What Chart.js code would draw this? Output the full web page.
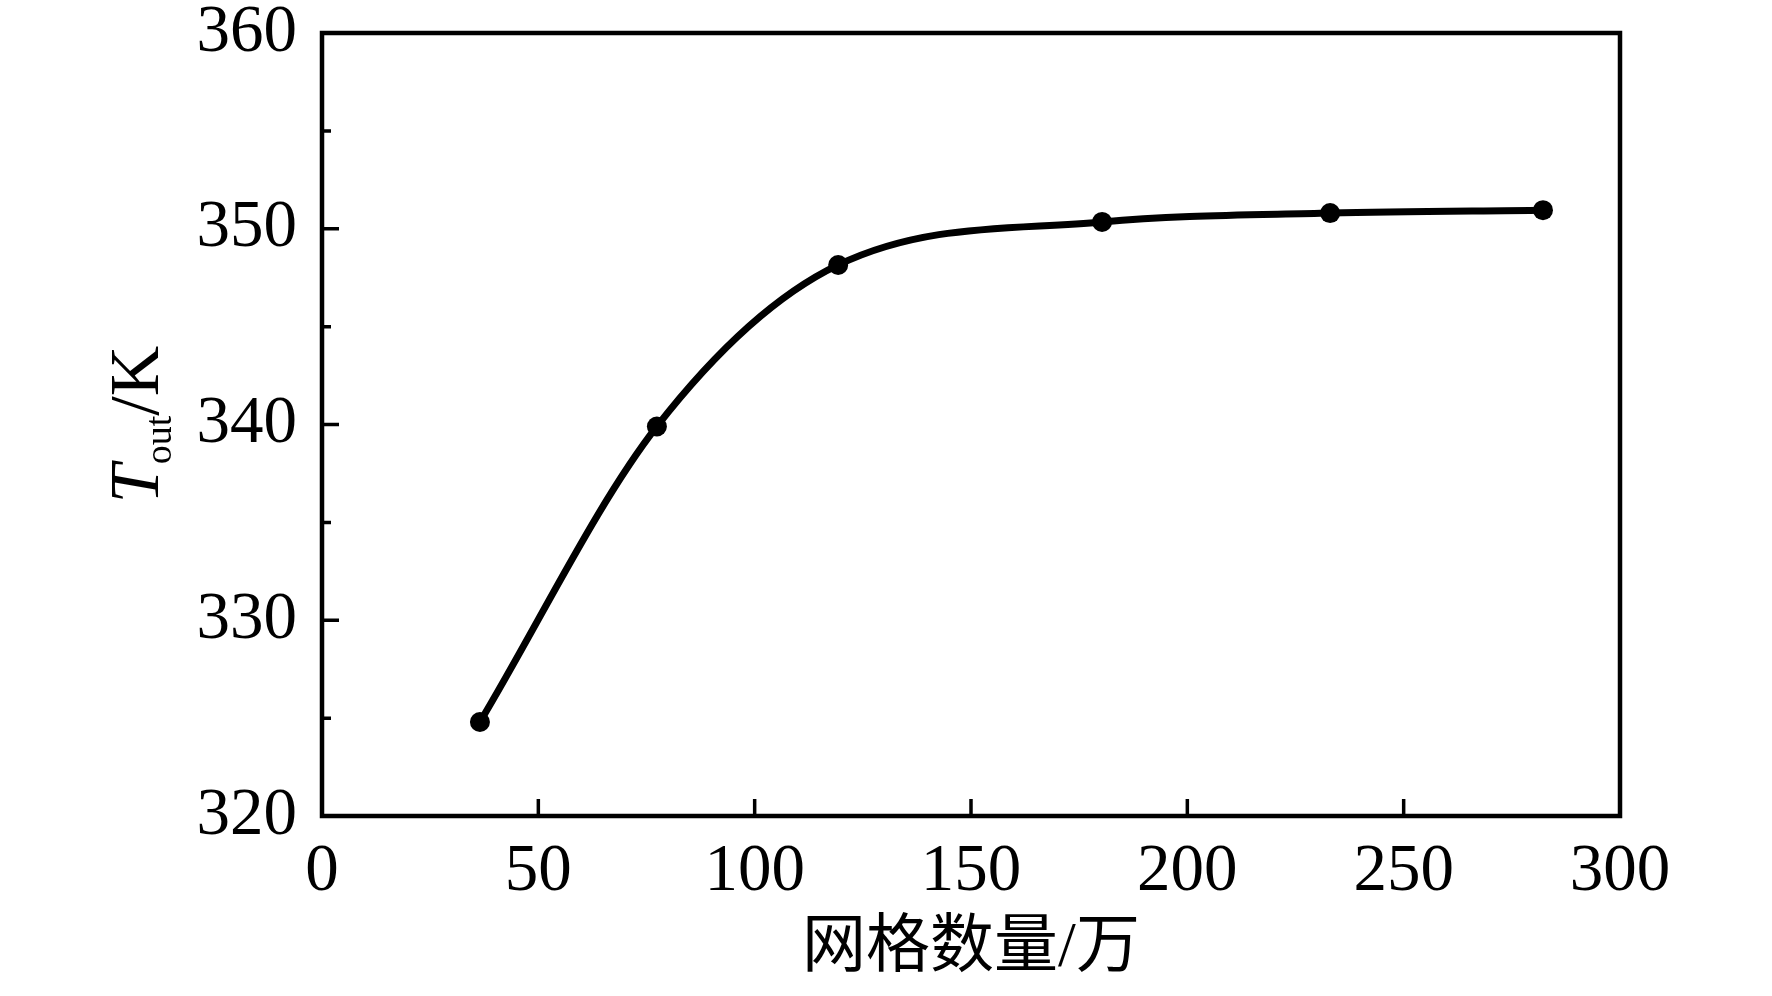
<!DOCTYPE html>
<html>
<head>
<meta charset="utf-8">
<script src="https://cdn.jsdelivr.net/npm/chart.js@4.4.1/dist/chart.umd.min.js"></script>
<style>
html,body{margin:0;padding:0;background:#fff;}
#wrap{width:1772px;height:996px;position:relative;}
</style>
</head>
<body>
<div id="wrap"><canvas id="c"></canvas></div>
<script>
// ---- data ----
const xValues = [36.5, 77.4, 119.3, 180.3, 233.0, 282.2];
const yValues = [324.8, 339.9, 348.15, 350.35, 350.8, 350.95];
const xTickValues = [0, 50, 100, 150, 200, 250, 300];
const yTickValues = [320, 330, 340, 350, 360];
const yMinorTickValues = [325, 335, 345, 355];
const xTitle = '网格数量/万';
const yTitleMain = 'T';
const yTitleSub = 'out';
const yTitleTail = '/K';

const points = xValues.map((x, i) => ({x: x, y: yValues[i]}));

const serif = '"Liberation Serif", "Times New Roman", serif';

const framePlugin = {
  id: 'frame',
  afterDraw(chart) {
    const ctx = chart.ctx;
    const {left, right, top, bottom} = chart.chartArea;
    const xs = chart.scales.x, ys = chart.scales.y;
    ctx.save();
    ctx.strokeStyle = '#000';
    ctx.lineWidth = 4.5;
    ctx.lineCap = 'butt';
    ctx.strokeRect(left, top, right - left, bottom - top);
    ctx.lineWidth = 3.5;
    ctx.beginPath();
    xTickValues.forEach(v => {
      if (v === xs.min || v === xs.max) return;
      const px = xs.getPixelForValue(v);
      ctx.moveTo(px, bottom);
      ctx.lineTo(px, bottom - 17);
    });
    yTickValues.forEach(v => {
      if (v === ys.min || v === ys.max) return;
      const py = ys.getPixelForValue(v);
      ctx.moveTo(left, py);
      ctx.lineTo(left + 17, py);
    });
    yMinorTickValues.forEach(v => {
      const py = ys.getPixelForValue(v);
      ctx.moveTo(left, py);
      ctx.lineTo(left + 9, py);
    });
    ctx.stroke();

    // y-axis title with subscript
    const cy = (top + bottom) / 2;
    const baseX = 158;
    const fMain = 'italic 70px ' + serif;
    const fSub = '38px ' + serif;
    const fTail = '70px ' + serif;
    ctx.font = fMain; const wT = ctx.measureText(yTitleMain).width;
    ctx.font = fSub; const wS = ctx.measureText(yTitleSub).width;
    ctx.font = fTail; const wK = ctx.measureText(yTitleTail).width;
    const total = wT + wS + wK;
    ctx.translate(baseX, cy);
    ctx.rotate(-Math.PI / 2);
    ctx.fillStyle = '#000';
    ctx.textBaseline = 'alphabetic';
    ctx.textAlign = 'left';
    let xx = -total / 2;
    ctx.font = fMain; ctx.fillText(yTitleMain, xx, 0); xx += wT;
    ctx.font = fSub; ctx.fillText(yTitleSub, xx, 13); xx += wS;
    ctx.font = fTail; ctx.fillText(yTitleTail, xx, 0);
    ctx.restore();
  }
};

new Chart(document.getElementById('c'), {
  type: 'line',
  data: {
    datasets: [{
      data: points,
      borderColor: '#000',
      backgroundColor: '#000',
      borderWidth: 7,
      pointRadius: 10,
      pointHoverRadius: 10,
      pointBackgroundColor: '#000',
      pointBorderWidth: 0,
      cubicInterpolationMode: 'monotone',
      fill: false
    }]
  },
  options: {
    responsive: true,
    maintainAspectRatio: false,
    devicePixelRatio: 1,
    animation: false,
    layout: {padding: {left: 0, top: 33, right: 152, bottom: 0}},
    plugins: {legend: {display: false}, tooltip: {enabled: false}},
    scales: {
      x: {
        type: 'linear',
        min: 0, max: 300,
        afterBuildTicks: s => { s.ticks = xTickValues.map(v => ({value: v})); },
        afterFit: s => { s.height = 180; s.paddingLeft = 0; s.paddingRight = 0; },
        grid: {display: false, drawTicks: false},
        border: {display: false},
        ticks: {color: '#000', padding: 16, font: {family: serif, size: 67}, maxRotation: 0, autoSkip: false},
        title: {
          display: true,
          text: xTitle,
          color: '#000',
          font: {family: '"Liberation Serif", "Noto Sans CJK SC", serif', size: 64},
          padding: {top: 0, bottom: 8}
        }
      },
      y: {
        type: 'linear',
        min: 320, max: 360,
        afterBuildTicks: s => { s.ticks = yTickValues.map(v => ({value: v})); },
        afterFit: s => { s.width = 322; s.paddingTop = 0; s.paddingBottom = 0; },
        grid: {display: false, drawTicks: false},
        border: {display: false},
        ticks: {color: '#000', padding: 25, font: {family: serif, size: 67}, autoSkip: false},
        title: {display: false}
      }
    }
  },
  plugins: [framePlugin]
});
</script>
</body>
</html>
